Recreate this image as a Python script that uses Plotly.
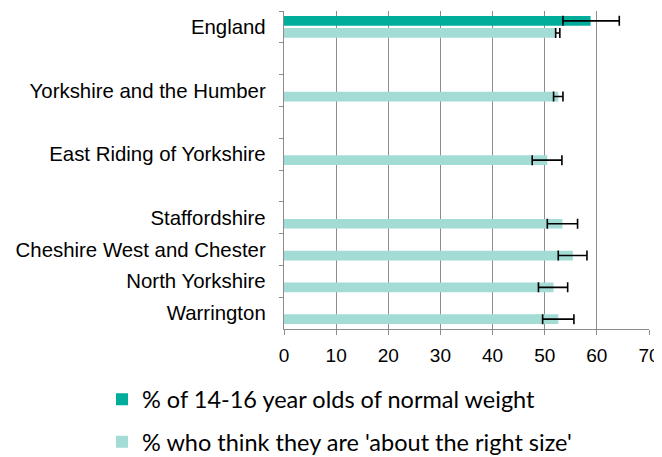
import plotly.graph_objects as go

categories = ["England", " ", "Yorkshire and the Humber", "  ", "East Riding of Yorkshire", "   ",
              "Staffordshire", "Cheshire West and Chester", "North Yorkshire", "Warrington"]

normal_weight = [58.8, None, None, None, None, None, None, None, None, None]
normal_weight_low = [53.5, None, None, None, None, None, None, None, None, None]
normal_weight_high = [64.3, None, None, None, None, None, None, None, None, None]

right_size = [52.1, None, 52.6, None, 50.5, None, 53.4, 55.4, 51.7, 52.6]
right_size_low = [52.1, None, 51.7, None, 47.6, None, 50.5, 52.6, 48.8, 49.6]
right_size_high = [52.9, None, 53.5, None, 53.3, None, 56.3, 58.1, 54.4, 55.6]

x_ticks = [0, 10, 20, 30, 40, 50, 60, 70]


def err(vals, lo, hi):
    plus = [(h - v) if v is not None else None for v, h in zip(vals, hi)]
    minus = [(v - l) if v is not None else None for v, l in zip(vals, lo)]
    return dict(type="data", symmetric=False, array=plus, arrayminus=minus,
                color="black", thickness=1.6, width=5)


fig = go.Figure()
fig.add_trace(go.Bar(
    y=categories, x=normal_weight, orientation="h",
    name="% of 14-16 year olds of normal weight",
    marker=dict(color="#00AD9A", line=dict(width=0)),
    error_x=err(normal_weight, normal_weight_low, normal_weight_high),
    legendgroup="a",
))
fig.add_trace(go.Bar(
    y=categories, x=right_size, orientation="h",
    name="% who think they are 'about the right size'",
    marker=dict(color="#A3DBD5", line=dict(width=0)),
    error_x=err(right_size, right_size_low, right_size_high),
    legendgroup="b",
))

# page body has an 8px margin, so the figure is 8px smaller and offsets are shifted
fig.update_layout(
    width=654, height=449,
    margin=dict(l=276, r=13, t=3, b=128, autoexpand=False),
    plot_bgcolor="white", paper_bgcolor="white",
    barmode="group", bargap=0.24, bargroupgap=0.2,
    font=dict(family="Liberation Sans, Arial, sans-serif", size=19, color="black"),
    showlegend=True,
    legend=dict(
        orientation="v", x=-0.4986, y=-0.1525, xanchor="left", yanchor="top",
        font=dict(family="Lato, sans-serif", size=23.5, color="black"),
        traceorder="grouped", tracegroupgap=9,
        bgcolor="rgba(0,0,0,0)",
    ),
)
fig.update_xaxes(
    range=[0, 70], tickvals=x_ticks, showgrid=True, gridcolor="#8C8C8C", gridwidth=1.4,
    showline=True, linecolor="#8C8C8C", linewidth=1.4,
    ticks="outside", ticklen=5, tickcolor="#8C8C8C", tickwidth=1.4,
    zeroline=False, ticklabelstandoff=4, automargin=False,
    tickfont=dict(size=19),
)
fig.update_yaxes(
    type="category", categoryorder="array", categoryarray=categories,
    autorange="reversed", tickson="boundaries",
    showline=True, linecolor="#8C8C8C", linewidth=1.4,
    ticks="outside", ticklen=4, tickcolor="#8C8C8C", tickwidth=1.4,
    showgrid=False, ticklabelstandoff=13, automargin=False,
    tickfont=dict(size=20.4),
)

fig.write_html("out.html")
